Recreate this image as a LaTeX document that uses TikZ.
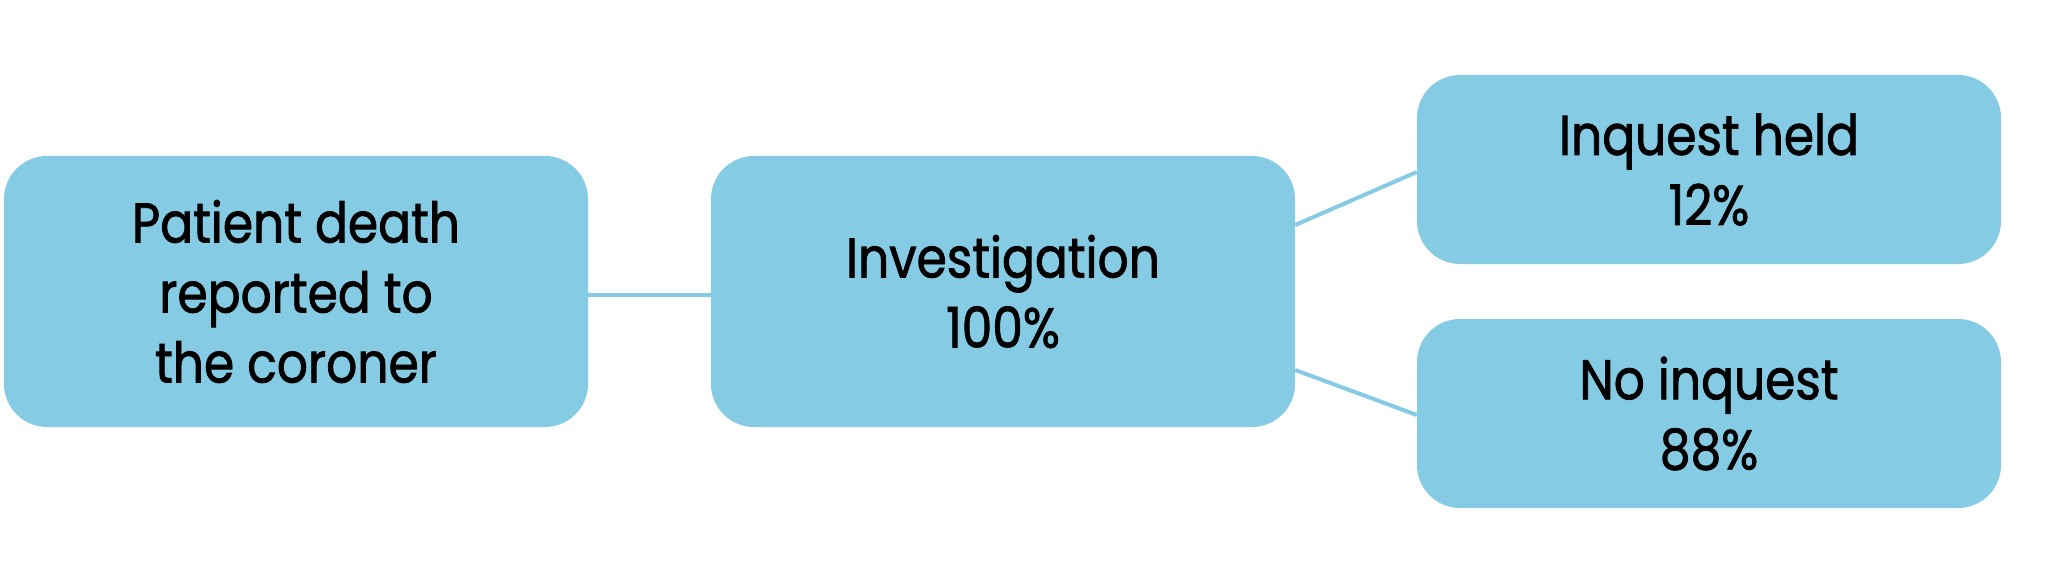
\documentclass[tikz,border=0pt]{standalone}
\usepackage{fontspec}
\setmainfont{Poppins}[FakeStretch=0.87, FakeBold=1.4]
\definecolor{boxblue}{HTML}{86CBE4}
\tikzset{
  flowbox/.style={rectangle, rounded corners=43pt, fill=boxblue, draw=none,
    minimum width=584pt, inner sep=0pt, align=center, text=black,
    font=\fontsize{56}{70}\selectfont},
  link/.style={draw=boxblue, line width=4pt}
}
\begin{document}
\begin{tikzpicture}[x=1pt,y=-1pt]
\useasboundingbox (0,0) rectangle (2047,580);
\node[flowbox, minimum height=271pt] (b1) at (296,291.5) {Patient death\\reported to\\the coroner};
\node[flowbox, minimum height=271pt] (b2) at (1003,291.5) {Investigation\\100\%};
\node[flowbox, minimum height=189pt] (b3) at (1709,169.5) {Inquest held\\12\%};
\node[flowbox, minimum height=189pt] (b4) at (1709,413.5) {No inquest\\88\%};
\draw[link] ([yshift=-3.5pt]b1.east) -- ([yshift=-3.5pt]b2.west);
\draw[link] ([yshift=66.5pt]b2.east) -- ([yshift=-2.5pt]b3.west);
\draw[link] ([yshift=-78.5pt]b2.east) -- ([yshift=-1.5pt]b4.west);
\end{tikzpicture}
\end{document}
